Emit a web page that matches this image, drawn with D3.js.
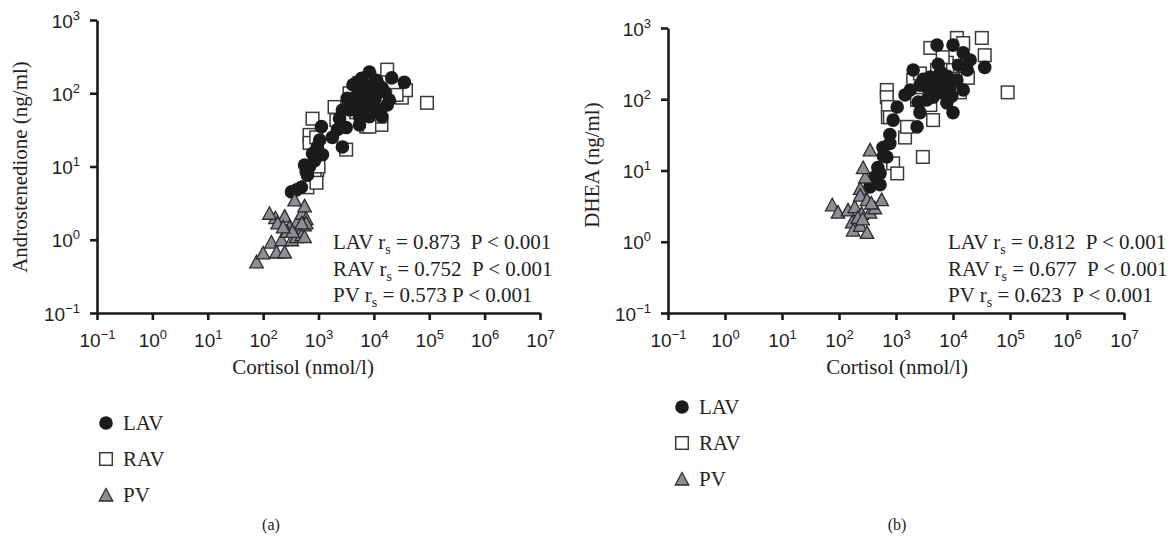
<!DOCTYPE html>
<html>
<head>
<meta charset="utf-8">
<script src="https://cdn.jsdelivr.net/npm/d3@7"></script>
<style>
  html, body { margin: 0; padding: 0; background: #fff; }
  svg { display: block; font-family: "Liberation Serif", "DejaVu Serif", serif; }
</style>
</head>
<body>
<svg id="chart" width="1173" height="550"></svg>
<script>
// ---------- DATA ----------
const tickExponents = [-1, 0, 1, 2, 3, 4, 5, 6, 7];
const yTickExponents = [-1, 0, 1, 2, 3];
const seriesNames = ["LAV", "RAV", "PV"];

// Panel (a): Cortisol (nmol/l) vs Androstenedione (ng/ml)
const andLAV = [[325,4.5],[490,5.2],[560,10.5],[690,10],[630,7.6],[780,15],[950,18.5],[1050,23],[1180,14.5],[1130,35],
  [1780,25],[2200,32],[3160,34],[2700,18.5],[5500,37],[2700,59],[3630,59],[4470,87],[4800,138],[8300,195],
  [11200,150],[21000,162],[35500,141],[6200,95],[8300,81],[12600,59],[14000,48],[17400,69],[19000,81],[7300,59],
  [9400,69],[3900,74],[11200,100],[14000,120],[7300,120],[5500,110],[8300,48],[5500,48],
  [4200,130],[6000,160],[9800,135],[15500,105],[3300,85],[4600,62],[10500,85],[6800,75],[2400,45],[850,12],[600,8.5],[400,4.8]];
const andRAV = [[780,45],[690,27],[690,21],[910,25],[950,9],[630,5.2],[850,8.4],[1950,65],[2100,43],[3160,17],
  [4470,100],[7300,35],[13700,37],[17400,210],[32000,87],[38000,110],[91000,74],[11200,120],[5500,138],[3630,100],
  [8300,160],[25700,95],[16000,90],[9400,90],[7000,110],[4800,74],[12600,48],[4800,55],[8300,35],[1000,10],[920,6]];
const andPV = [[76,0.5],[100,0.66],[141,0.93],[167,2.0],[245,2.1],[183,1.7],[300,1.5],[174,0.68],[245,0.68],[215,1.0],
  [330,1.0],[400,1.1],[500,1.17],[560,1.1],[420,1.8],[500,2.3],[560,2.9],[600,1.95],[560,1.6],[370,3.5],
  [270,1.3],[340,1.3],[230,1.5],[130,2.3],[600,1.7],[500,1.7]];

// Panel (b): Cortisol (nmol/l) vs DHEA (ng/ml)
const dheaLAV = [[350,5.9],[525,6.3],[425,8.1],[480,11],[690,15.5],[590,21],[780,32],[890,51],[1050,78],[1440,115],
  [2000,257],[2630,158],[2450,91],[2630,65],[2340,41],[3470,148],[4470,107],[5900,186],[6600,123],[5250,575],
  [10000,575],[15100,450],[20000,355],[36000,280],[10000,65],[7800,89],[8900,148],[11700,186],[17800,257],[15100,135],
  [4000,205],[3470,98],[1780,135],[780,24],[525,9.1],
  [6000,240],[8000,210],[12500,300],[4800,160],[7000,150],[9500,110],[5500,310],[3000,190],[600,16],[420,7]];
const dheaRAV = [[690,135],[690,107],[720,78],[720,56],[1440,29],[2960,15.5],[890,12.6],[1050,9.1],[2340,98],[2000,186],
  [4470,51],[4000,83],[4000,525],[11700,725],[15100,615],[32000,725],[36000,415],[18300,200],[13200,125],[91000,125],
  [7800,325],[10000,257],[13200,290],[5250,257],[6600,390],[1560,41],[780,56],[2630,230]];
const dheaPV = [[76,3.3],[96,2.6],[144,2.8],[190,3.1],[170,1.9],[177,1.46],[236,1.7],[310,1.35],[250,2.5],[350,2.6],
  [425,3.0],[560,3.9],[236,5.6],[290,8.1],[265,11],[350,19.5],[236,4.5],[310,3.9],[370,3.5],[215,2.2],[260,2.1]];

const statsA = [["LAV", "0.873", "  "], ["RAV", "0.752", "  "], ["PV", "0.573", " "]];
const statsB = [["LAV", "0.812", "  "], ["RAV", "0.677", "  "], ["PV", "0.623", "  "]];

// ---------- DRAW ----------
const svg = d3.select("#chart");
const FONT = 21;

function expLabel(sel, e, supSize, supDy) {
  sel.append("tspan").text("10");
  sel.append("tspan").attr("font-size", supSize).attr("dy", supDy)
    .text(e < 0 ? "\u2212" + Math.abs(e) : String(e));
}

function marker(g, type, cx, cy) {
  if (type === "LAV") {
    g.append("circle").attr("cx", cx).attr("cy", cy).attr("r", 6.8).attr("fill", "#1b1b1b");
  } else if (type === "RAV") {
    g.append("rect").attr("x", cx - 6.3).attr("y", cy - 6.3).attr("width", 12.6).attr("height", 12.6)
      .attr("fill", "#fff").attr("stroke", "#3a3a3a").attr("stroke-width", 1.5);
  } else {
    const s = 13.5, h = 12;
    g.append("path").attr("d", `M${cx},${cy - h/2 - 0.5}L${cx + s/2},${cy + h/2}L${cx - s/2},${cy + h/2}Z`)
      .attr("fill", "#8d8e95").attr("stroke", "#2a2a2a").attr("stroke-width", 1.3).attr("stroke-linejoin", "miter");
  }
}

function panel(cfg) {
  const g = svg.append("g");
  const x = d3.scaleLog().domain([0.1, 1e7]).range([cfg.x0, cfg.x1]);
  const y = d3.scaleLog().domain([0.1, 1000]).range([cfg.y0, cfg.y1]);

  const layers = [["RAV", cfg.rav], ["LAV", cfg.lav], ["PV", cfg.pv]];
  layers.forEach(([name, data]) => {
    const lg = g.append("g");
    data.forEach(d => marker(lg, name, x(d[0]), y(d[1])));
  });

  const xa = g.append("g").attr("transform", `translate(0,${cfg.y0})`)
    .call(d3.axisBottom(x).tickValues(tickExponents.map(e => Math.pow(10, e))).tickSize(7).tickSizeOuter(0).tickFormat(""));
  const ya = g.append("g").attr("transform", `translate(${cfg.x0},0)`)
    .call(d3.axisLeft(y).tickValues(yTickExponents.map(e => Math.pow(10, e))).tickSize(7).tickSizeOuter(0).tickFormat(""));
  [xa, ya].forEach(a => {
    a.select(".domain").attr("stroke", "#1a1a1a").attr("stroke-width", 2.6);
    a.selectAll(".tick line").attr("stroke", "#1a1a1a").attr("stroke-width", 2.6);
    a.selectAll(".tick text").remove();
  });
  xa.selectAll(".tick").each(function(d) {
    const t = d3.select(this).append("text").attr("y", 34).attr("text-anchor", "middle")
      .attr("font-size", 19).attr("fill", "#222");
    expLabel(t, Math.round(Math.log10(d)), 13, -8);
  });
  ya.selectAll(".tick").each(function(d) {
    const t = d3.select(this).append("text").attr("x", -17).attr("y", 7).attr("text-anchor", "end")
      .attr("font-size", 19).attr("fill", "#222");
    expLabel(t, Math.round(Math.log10(d)), 13, -8);
  });

  g.append("text").attr("x", cfg.xTitleX).attr("y", 374).attr("text-anchor", "middle")
    .attr("font-size", FONT).attr("fill", "#222").text("Cortisol (nmol/l)");
  g.append("text").attr("transform", `translate(${cfg.yTitleX},${cfg.yTitleY}) rotate(-90)`)
    .attr("text-anchor", "middle").attr("font-size", FONT).attr("fill", "#222").text(cfg.yTitle);

  cfg.stats.forEach((s, i) => {
    const [name, r, gap] = s;
    const t = g.append("text").attr("x", cfg.statX).attr("y", cfg.statY + i * 26.5)
      .attr("font-size", FONT).attr("fill", "#222").attr("xml:space", "preserve");
    t.append("tspan").text(name + " r");
    t.append("tspan").attr("font-size", 14).attr("dy", 5).text("s");
    t.append("tspan").attr("dy", -5).text(" = " + r + gap + "P < 0.001");
  });

  seriesNames.forEach((n, i) => {
    const cy = cfg.legY + i * cfg.legStep;
    marker(g, n, cfg.legX, cy);
    g.append("text").attr("x", cfg.legX + 17).attr("y", cy + 6.5).attr("font-size", FONT)
      .attr("fill", "#222").text(n);
  });

  g.append("text").attr("x", cfg.capX).attr("y", 530).attr("text-anchor", "middle")
    .attr("font-size", 16).attr("fill", "#222").text(cfg.cap);
}

panel({x0: 97, x1: 540, y0: 313, y1: 20, lav: andLAV, rav: andRAV, pv: andPV,
  yTitle: "Androstenedione (ng/ml)", yTitleX: 27, yTitleY: 167, xTitleX: 303,
  stats: statsA, statX: 333, statY: 249, legX: 106, legY: 423, legStep: 36, capX: 271, cap: "(a)"});
panel({x0: 668, x1: 1124, y0: 313, y1: 28, lav: dheaLAV, rav: dheaRAV, pv: dheaPV,
  yTitle: "DHEA (ng/ml)", yTitleX: 599, yTitleY: 165, xTitleX: 897,
  stats: statsB, statX: 948, statY: 249, legX: 682, legY: 407, legStep: 36, capX: 897, cap: "(b)"});
</script>
</body>
</html>
